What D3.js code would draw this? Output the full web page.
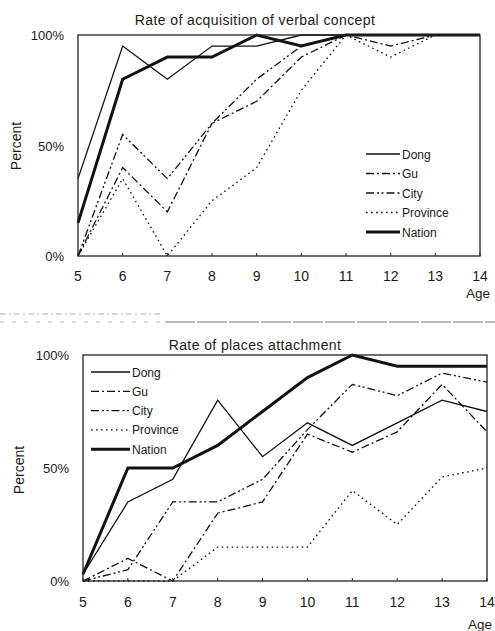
<!DOCTYPE html>
<html><head><meta charset="utf-8">
<script src="https://cdn.jsdelivr.net/npm/d3@7"></script>
<style>body{margin:0;background:#fff}svg{display:block}text{font-family:"Liberation Sans",Arial,sans-serif;fill:#1a1a1a}</style>
</head><body>
<script>
const ages = [5,6,7,8,9,10,11,12,13,14];
const yTicks = [0,50,100];
const yTickLabels = ["0%","50%","100%"];
const seriesNames = ["Dong","Gu","City","Province","Nation"];

// Chart 1: Rate of acquisition of verbal concept
const verbalDong     = [35,95,80,95,95,100,100,100,100,100];
const verbalGu       = [0,40,20,60,70,90,100,95,100,100];
const verbalCity     = [0,55,35,60,80,95,100,100,100,100];
const verbalProvince = [0,35,0,25,40,75,100,90,100,100];
const verbalNation   = [15,80,90,90,100,95,100,100,100,100];

// Chart 2: Rate of places attachment
const placeDong     = [3,35,45,80,55,70,60,70,80,75];
const placeGu       = [0,10,0,30,35,65,57,66,87,66];
const placeCity     = [0,5,35,35,45,67,87,82,92,88];
const placeProvince = [0,0,0,15,15,15,40,25,46,50];
const placeNation   = [3,50,50,60,75,90,100,95,95,95];

const styles = {
  Dong:{w:1.3,dash:null},
  Gu:{w:1.3,dash:"8,3,2,3"},
  City:{w:1.3,dash:"8,3,2,2.5,2,3"},
  Province:{w:1.3,dash:"1.6,3.4"},
  Nation:{w:3,dash:null}
};

const svg = d3.select("body").append("svg").attr("width",495).attr("height",631);

function drawChart(cfg){
  const x = d3.scaleLinear().domain([5,14]).range([cfg.x0,cfg.x1]);
  const y = d3.scaleLinear().domain([0,100]).range([cfg.y0,cfg.y1]);
  const g = svg.append("g");
  // title
  g.append("text").attr("x",cfg.titleX).attr("y",cfg.titleY).attr("text-anchor","middle")
    .style("font-size","14px").style("letter-spacing","0.4px").text(cfg.title);
  // y labels
  g.selectAll(".yl").data(yTicks).join("text").attr("x",cfg.yLabX).attr("y",d=>y(d)+5)
    .attr("text-anchor","end").style("font-size","13px").text((d,i)=>yTickLabels[i]);
  // x labels
  g.selectAll(".xl").data(ages).join("text").attr("x",d=>x(d)).attr("y",cfg.xLabY)
    .attr("text-anchor","middle").style("font-size","14px").text(d=>d);
  // axis titles
  g.append("text").attr("x",cfg.ageX).attr("y",cfg.ageY).attr("text-anchor","middle")
    .style("font-size","13.5px").text("Age");
  g.append("text").attr("transform",`translate(${cfg.pctX},${cfg.pctY}) rotate(-90)`)
    .attr("text-anchor","middle").style("font-size","14px").text("Percent");
  // small ticks on bottom axis
  g.selectAll(".tk").data(ages).join("line").attr("x1",d=>x(d)).attr("x2",d=>x(d))
    .attr("y1",y(0)).attr("y2",y(0)-3).attr("stroke","#222").attr("stroke-width",1);
  // series
  const line = d3.line().x((d,i)=>x(ages[i])).y(d=>y(d));
  cfg.series.forEach((vals,k)=>{
    const st = styles[seriesNames[k]];
    g.append("path").attr("d",line(vals)).attr("fill","none").attr("stroke","#111")
      .attr("stroke-width",st.w).attr("stroke-dasharray",st.dash).attr("stroke-linejoin","miter");
  });
  // frame
  g.append("rect").attr("x",x(5)).attr("y",y(100)).attr("width",x(14)-x(5)).attr("height",y(0)-y(100))
    .attr("fill","none").attr("stroke","#222").attr("stroke-width",1.3);
  // legend
  seriesNames.forEach((n,k)=>{
    const st = styles[n];
    const ly = cfg.legY + k*cfg.legGap;
    g.append("line").attr("x1",cfg.legX0).attr("x2",cfg.legX1).attr("y1",ly).attr("y2",ly)
      .attr("stroke","#111").attr("stroke-width",st.w).attr("stroke-dasharray",st.dash);
    g.append("text").attr("x",cfg.legX1+2).attr("y",ly+4.5).style("font-size","12px").text(n);
  });
}

drawChart({title:"Rate of acquisition of verbal concept",titleX:255,titleY:25,
  x0:78,x1:480,y0:256,y1:35,yLabX:64,xLabY:281,ageX:478,ageY:298,pctX:21,pctY:146,
  legX0:366,legX1:400,legY:154,legGap:19.5,
  series:[verbalDong,verbalGu,verbalCity,verbalProvince,verbalNation]});

drawChart({title:"Rate of places attachment",titleX:255,titleY:350,
  x0:83,x1:487,y0:581,y1:355,yLabX:69,xLabY:607,ageX:480,ageY:629,pctX:24,pctY:470,
  legX0:91,legX1:130,legY:372,legGap:19.3,
  series:[placeDong,placeGu,placeCity,placeProvince,placeNation]});

// scan artifact separator lines
svg.append("line").attr("x1",0).attr("x2",160).attr("y1",314).attr("y2",314)
  .attr("stroke","#999").attr("stroke-width",0.8).attr("stroke-dasharray","6,3,2,3");
svg.append("line").attr("x1",0).attr("x2",165).attr("y1",322).attr("y2",322)
  .attr("stroke","#aaa").attr("stroke-width",0.8).attr("stroke-dasharray","4,8");
svg.append("line").attr("x1",165).attr("x2",495).attr("y1",322).attr("y2",322)
  .attr("stroke","#777").attr("stroke-width",1).attr("stroke-dasharray","30,2");
</script>
</body></html>
